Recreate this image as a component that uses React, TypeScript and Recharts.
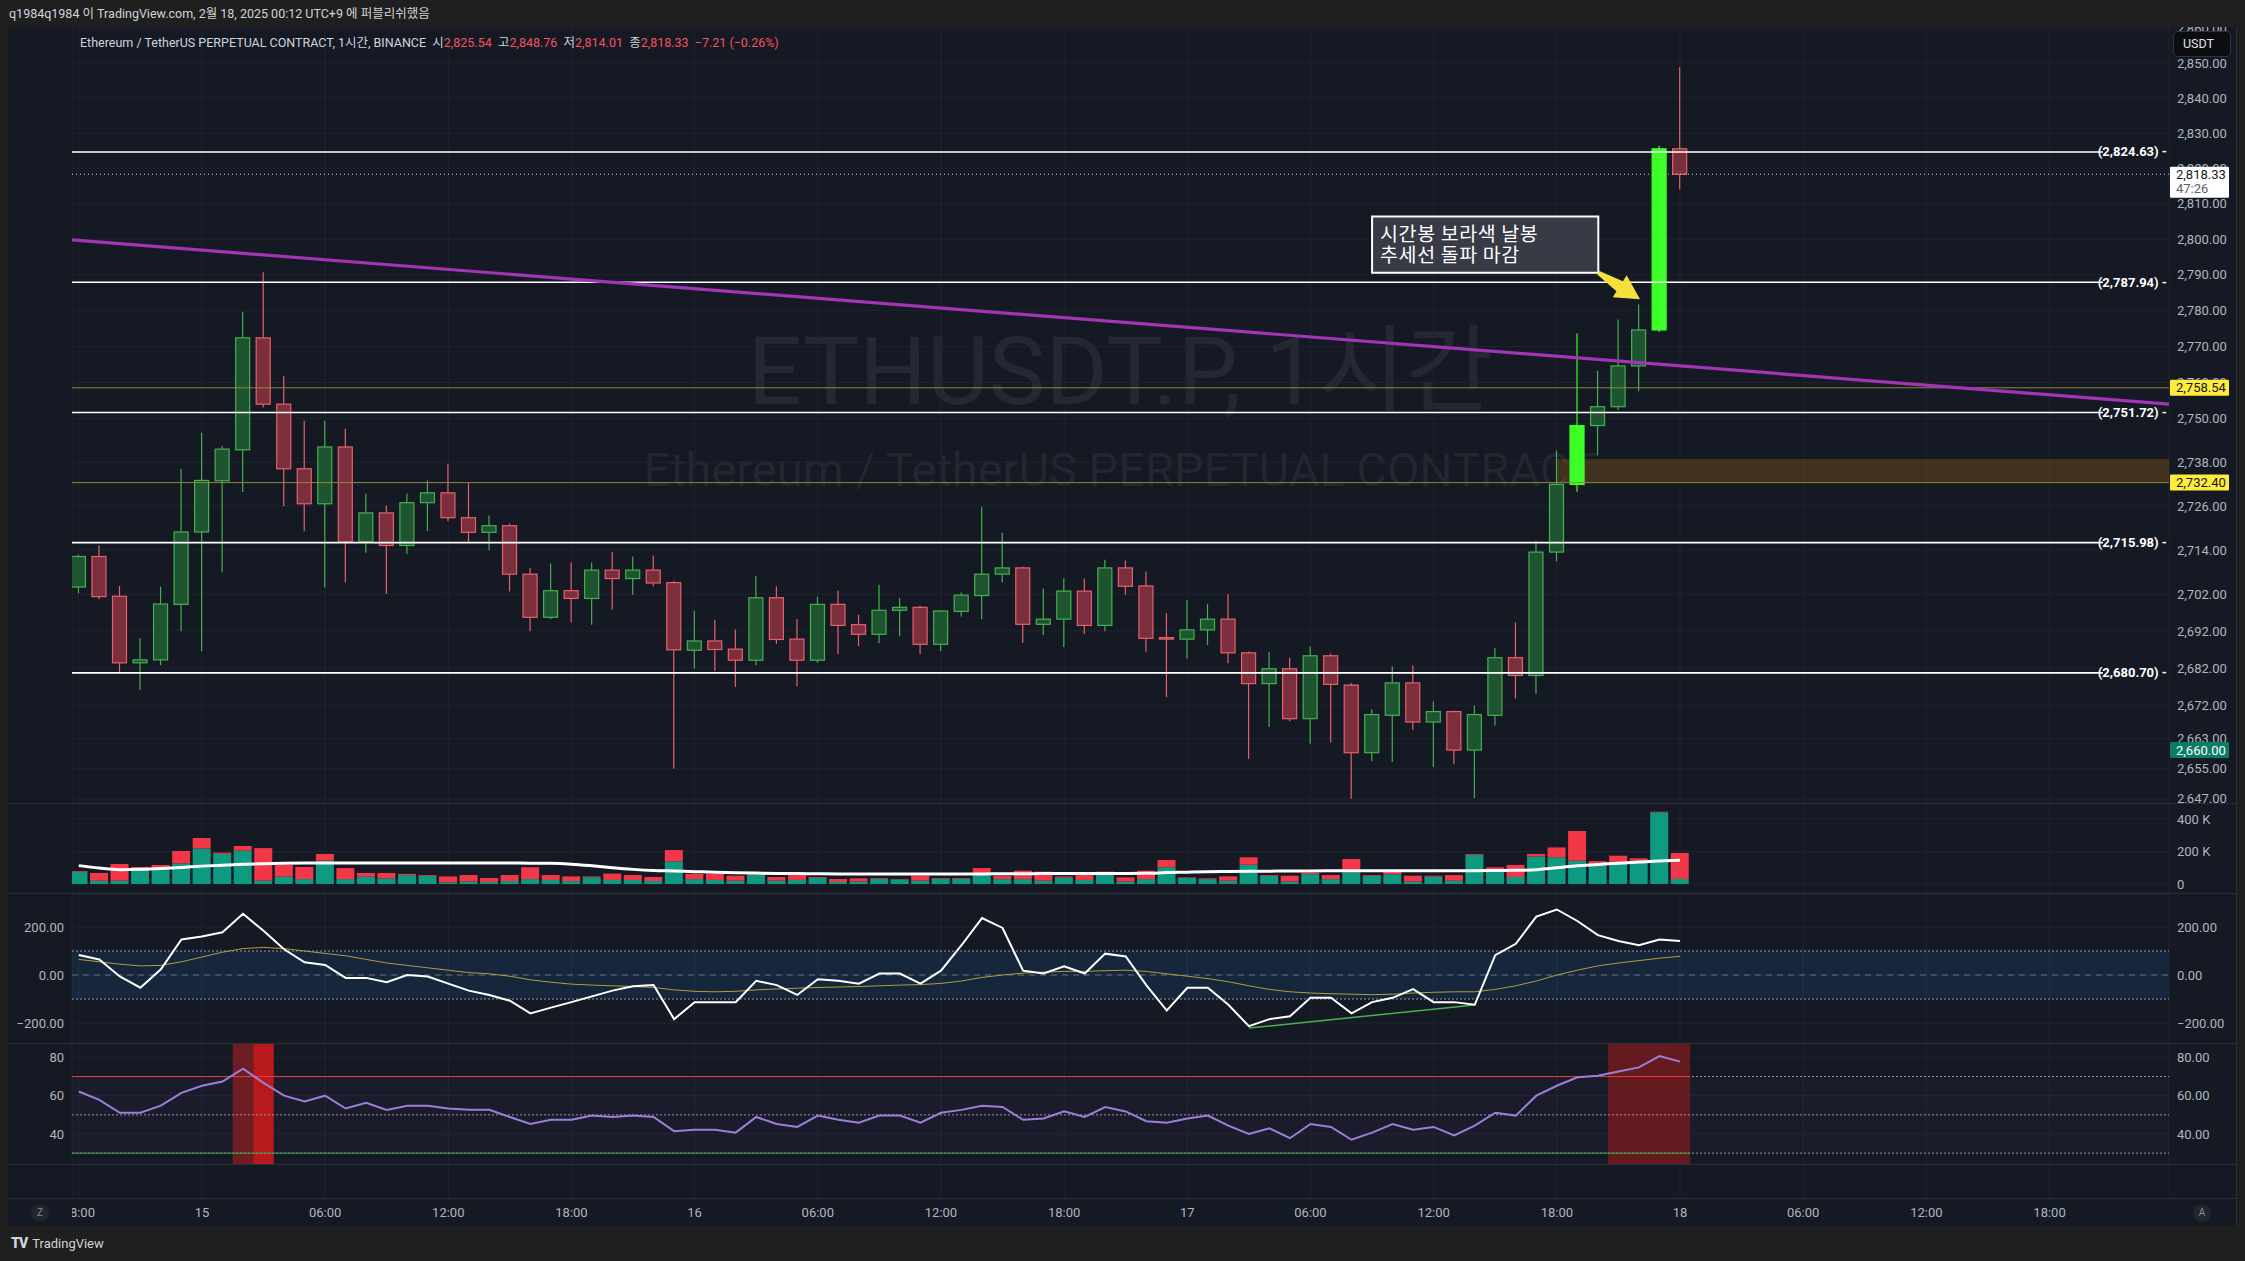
import React from 'react';
import {
  ComposedChart,
  Bar,
  Line,
  XAxis,
  YAxis,
  CartesianGrid,
  ReferenceLine,
  ReferenceArea,
} from 'recharts';

// ---------------- data ----------------
const timeTicks = [0, 6, 12, 18, 24, 30, 36, 42, 48, 54, 60, 66, 72, 78, 84, 90, 96];
const timeLabels = ['18:00', '15', '06:00', '12:00', '18:00', '16', '06:00', '12:00', '18:00', '17', '06:00', '12:00', '18:00', '18', '06:00', '12:00', '18:00'];

const opens = [
  2703.9, 2712.2, 2701.4, 2683.4, 2684.2, 2699.2, 2718.9, 2732.9, 2741.4, 2772.4,
  2754.0, 2736.2, 2726.6, 2742.2, 2716.2, 2724.1, 2715.2, 2726.9, 2729.6, 2722.8,
  2718.8, 2720.6, 2707.4, 2695.7, 2702.9, 2700.8, 2708.5, 2706.2, 2708.5, 2705.1,
  2686.8, 2689.3, 2687.1, 2684.1, 2701.0, 2689.8, 2684.1, 2699.2, 2693.7, 2691.1,
  2697.6, 2698.4, 2688.4, 2697.3, 2701.6, 2707.4, 2709.1, 2693.8, 2695.2, 2702.8,
  2693.5, 2709.1, 2704.2, 2690.2, 2689.8, 2692.3, 2695.2, 2686.1, 2677.8, 2681.8,
  2668.4, 2685.3, 2677.4, 2659.3, 2669.3, 2678.0, 2667.5, 2670.3, 2660.0, 2669.3,
  2684.8, 2680.0, 2713.4, 2731.9, 2748.1, 2753.3, 2764.6, 2774.6, 2825.54,
];
const highs = [
  2712.7, 2715.2, 2704.2, 2690.0, 2704.0, 2736.2, 2746.1, 2742.5, 2779.7, 2790.7,
  2761.9, 2749.4, 2749.4, 2747.2, 2729.4, 2726.1, 2729.4, 2733.0, 2737.6, 2732.5,
  2723.4, 2721.2, 2709.1, 2710.3, 2710.6, 2710.6, 2713.4, 2712.2, 2712.5, 2705.6,
  2697.5, 2695.0, 2692.4, 2707.0, 2704.1, 2695.2, 2701.3, 2702.9, 2696.4, 2704.5,
  2700.9, 2698.8, 2697.6, 2702.4, 2725.8, 2718.7, 2709.4, 2703.5, 2706.3, 2706.2,
  2711.3, 2711.1, 2708.1, 2696.8, 2700.4, 2699.3, 2702.0, 2686.5, 2686.4, 2684.8,
  2687.9, 2685.9, 2678.0, 2670.9, 2682.5, 2682.7, 2673.0, 2670.6, 2671.9, 2687.4,
  2694.3, 2716.5, 2741.2, 2773.6, 2763.3, 2777.5, 2781.7, 2826.4, 2848.76,
];
const lows = [
  2702.2, 2700.6, 2680.5, 2676.1, 2682.8, 2691.9, 2686.5, 2707.9, 2729.8, 2753.1,
  2725.9, 2719.1, 2703.8, 2705.1, 2713.2, 2702.0, 2712.9, 2719.1, 2721.8, 2715.9,
  2713.9, 2702.7, 2691.9, 2695.2, 2694.3, 2693.7, 2697.8, 2701.8, 2704.1, 2655.0,
  2681.9, 2681.2, 2676.9, 2682.8, 2688.5, 2677.1, 2683.4, 2685.7, 2687.9, 2688.7,
  2690.6, 2685.8, 2686.5, 2695.9, 2695.2, 2705.1, 2688.8, 2690.9, 2687.7, 2691.2,
  2691.9, 2701.8, 2686.4, 2674.2, 2684.6, 2688.2, 2683.3, 2657.6, 2666.2, 2667.7,
  2661.7, 2662.0, 2647.0, 2657.0, 2656.8, 2665.4, 2655.5, 2656.2, 2647.2, 2666.6,
  2673.8, 2675.1, 2710.9, 2729.9, 2739.9, 2752.4, 2757.6, 2774.0, 2814.01,
];
const closes = [
  2712.2, 2701.3, 2683.4, 2684.2, 2699.3, 2718.9, 2733.0, 2741.6, 2772.4, 2754.0,
  2736.2, 2726.6, 2742.2, 2716.2, 2724.1, 2715.2, 2726.9, 2729.6, 2722.8, 2718.8,
  2720.6, 2707.4, 2695.7, 2702.9, 2700.8, 2708.5, 2706.2, 2708.5, 2705.0, 2686.9,
  2689.3, 2687.0, 2684.1, 2701.0, 2689.7, 2684.1, 2699.2, 2693.5, 2691.1, 2697.6,
  2698.4, 2688.4, 2697.4, 2701.7, 2707.4, 2709.1, 2693.8, 2695.2, 2702.8, 2693.5,
  2709.1, 2704.1, 2690.0, 2690.0, 2692.3, 2695.2, 2686.1, 2677.8, 2681.8, 2668.4,
  2685.3, 2677.6, 2659.3, 2669.5, 2678.0, 2667.5, 2670.3, 2660.0, 2669.5, 2684.8,
  2680.0, 2713.4, 2731.9, 2748.1, 2753.3, 2764.6, 2774.6, 2825.54, 2818.33,
];
const neonBars = [73, 77];

const volBuy = [
  75, 20, 20, 88, 92, 127, 219, 185, 205, 20,
  45, 30, 144, 30, 45, 35, 55, 50, 10, 15,
  12, 18, 30, 25, 18, 42, 25, 25, 18, 139,
  30, 25, 20, 58, 20, 25, 38, 12, 15, 33,
  28, 20, 33, 33, 62, 30, 30, 20, 40, 25,
  65, 15, 30, 103, 38, 30, 20, 119, 50, 15,
  60, 30, 72, 50, 60, 15, 45, 20, 180, 78,
  43, 170, 164, 143, 123, 133, 144, 441, 31,
];
const volSell = [
  5, 48, 103, 17, 25, 76, 64, 8, 29, 201,
  72, 75, 41, 68, 23, 33, 7, 5, 37, 40,
  25, 37, 73, 30, 29, 5, 39, 30, 25, 70,
  32, 37, 31, 4, 23, 30, 5, 19, 20, 4,
  3, 31, 4, 4, 36, 21, 52, 56, 7, 43,
  11, 26, 52, 45, 3, 5, 27, 45, 5, 36,
  8, 25, 82, 5, 16, 36, 6, 35, 5, 25,
  74, 15, 61, 183, 18, 41, 14, 4, 160,
];
const volMA = [
  113, 98, 88, 90, 95, 102, 110, 116, 121, 125,
  128, 129, 129, 129, 129, 129, 129, 129, 129, 129,
  129, 129, 128, 127, 122, 112, 100, 90, 83, 80,
  76, 72, 69, 67, 65, 64, 63, 62, 62, 62,
  62, 62, 62, 62, 62, 63, 63, 64, 64, 65,
  65, 65, 66, 70, 73, 76, 77, 78, 79, 80,
  80, 81, 82, 82, 82, 82, 82, 82, 82, 83,
  84, 88, 100, 113, 120, 128, 135, 142, 146,
];

const cci = [
  83, 65, -6, -53, 24, 148, 160, 178, 255, 184,
  107, 53, 42, -12, -12, -30, 0, -6, -36, -65,
  -83, -107, -160, -136, -113, -89, -65, -47, -42, -184,
  -113, -113, -113, -24, -42, -83, -18, -24, -36, 6,
  6, -36, 18, 124, 237, 196, 18, 6, 36, 6,
  89, 77, -42, -148, -53, -53, -124, -213, -184, -172,
  -95, -95, -160, -113, -95, -59, -113, -113, -124, 83,
  130, 243, 273, 225, 166, 142, 124, 148, 142,
];
const cciMA = [
  65, 55, 45, 38, 40, 55, 75, 95, 110, 115,
  110, 100, 90, 80, 65, 50, 40, 30, 20, 10,
  5, -5, -20, -30, -38, -42, -45, -48, -52, -62,
  -68, -70, -68, -62, -58, -55, -52, -50, -48, -45,
  -42, -40, -35, -25, -10, 0, 8, 12, 15, 15,
  18, 20, 15, 5, -5, -15, -28, -45, -60, -70,
  -75, -78, -80, -82, -80, -75, -72, -70, -70, -60,
  -45, -25, 0, 20, 38, 50, 60, 70, 78,
];
const rsi = [
  62.2, 57.8, 51.1, 51.1, 54.8, 61.5, 65.2, 67.4, 74.1, 66.7,
  60, 57, 60, 53.3, 56.3, 52.6, 54.8, 54.8, 53.3, 52.6,
  52.6, 48.9, 45.2, 47.4, 47.4, 49.6, 48.9, 49.6, 48.9, 41.5,
  42.2, 42.2, 40.7, 48.9, 45.2, 43.7, 49.6, 47.4, 45.9, 49.6,
  49.6, 45.9, 51.1, 52.6, 54.8, 54.1, 47.4, 48.1, 51.8, 48.9,
  54.1, 51.8, 46.7, 45.9, 48.1, 49.6, 44.4, 40, 43, 37.8,
  45.2, 43.7, 37, 40.7, 45.2, 42.2, 43.7, 39.3, 44.4, 51.1,
  49.6, 60, 65.2, 69.6, 70.4, 72.6, 74.8, 80.7, 77.8,
];

const priceTicks = [2647, 2655, 2663, 2672, 2682, 2692, 2702, 2714, 2726, 2738, 2750, 2760, 2770, 2780, 2790, 2800, 2810, 2820, 2830, 2840, 2850, 2860];
const volTicks = [0, 200, 400];
const cciTicks = [-200, 0, 200];
const rsiTicks = [40, 60, 80];

const whiteLevels = [2824.63, 2787.94, 2751.72, 2715.98, 2680.70];
const oliveLevels = [2758.54, 2732.40];
const lastPrice = 2818.33;
const countdown = '47:26';
const alertPrice = 2660.0;
const zone = { x1: 72, y1: 2732.4, y2: 2738.9 };
const trendData = [
  { i: -0.33, t: 2799.8 },
  { i: 101.82, t: 2754.0 },
];
const divergenceData = [
  { i: 57, d: -221 },
  { i: 68, d: -125 },
];
const note = ['시간봉 보라색 날봉', '추세선 돌파 마감'];
const noteBox = { x1: 63.0, x2: 74.02, y1: 2790.6, y2: 2806.4 };
const arrowFrom = { x: 74.02, y: 2790.6 };
const arrowTo = { x: 76.05, y: 2783.2 };
const rsiZones = [
  { x1: 7.5, x2: 8.5, color: '#6e1d22' },
  { x1: 8.5, x2: 9.5, color: '#b7191c' },
  { x1: 74.5, x2: 78.5, color: '#641b1f' },
];

// ---------------- constants ----------------
const FONT = "Roboto, 'Noto Sans CJK KR', 'Noto Sans', sans-serif";
const BG = '#151924';
const GRID = '#20242f';
const AX = '#b2b5be';
const SEP = '#2a2e39';
const X_DOMAIN: [number, number] = [-0.33, 101.82];
const PRICE_DOMAIN: [number, number] = [2645.9, 2860.3];
const VOL_DOMAIN: [number, number] = [-55.4, 492.3];
const CCI_DOMAIN: [number, number] = [-283.3, 337.5];
const RSI_DOMAIN: [number, number] = [24.33, 87.0];
const ZERO = { top: 0, right: 0, bottom: 0, left: 0 };
const tickStyle = { fill: AX, fontSize: 13, fontFamily: FONT };

const candleData = opens.map((o, i) => ({
  i,
  o,
  h: highs[i],
  l: lows[i],
  c: closes[i],
  range: [lows[i], highs[i]],
  neon: neonBars.includes(i),
}));
const volData = volBuy.map((b, i) => ({ i, buy: b, sell: volSell[i], ma: volMA[i] }));
const indData = cci.map((v, i) => ({ i, cci: v, cciMA: cciMA[i], rsi: rsi[i] }));

const fmt2 = (v: number) =>
  v.toLocaleString('en-US', { minimumFractionDigits: 2, maximumFractionDigits: 2 }).replace('-', '\u2212');
const fmtVol = (v: number) => (v === 0 ? '0' : `${v} K`);
const timeFmt = (v: number) => {
  const k = timeTicks.indexOf(v);
  return k >= 0 ? timeLabels[k] : '';
};

// ---------------- shapes ----------------
function CandleShape(props: any) {
  const { x, y, width, height, payload } = props;
  if (x == null || y == null || !payload) return null;
  const { o, h, l, c, neon } = payload;
  const top = Math.min(y, y + height);
  const bottom = Math.max(y, y + height);
  const lh = Math.log(h);
  const ll = Math.log(l);
  const span = lh - ll || 1;
  const py = (v: number) => top + ((bottom - top) * (lh - Math.log(v))) / span;
  const cx = x + width / 2;
  const up = c >= o;
  const stroke = neon ? '#3bff27' : up ? '#43b14c' : '#e6606c';
  const fill = neon ? '#3bff27' : up ? '#1e5530' : '#7b2f3c';
  const bTop = py(Math.max(o, c));
  const bBot = py(Math.min(o, c));
  const bw = 14;
  return (
    <g>
      <line x1={cx} x2={cx} y1={top} y2={bottom} stroke={stroke} strokeWidth={1.2} />
      <rect x={cx - bw / 2} y={bTop} width={bw} height={Math.max(bBot - bTop, 1.5)} fill={fill} stroke={stroke} strokeWidth={1.2} />
    </g>
  );
}

function ArrowShape(props: any) {
  const { x1, y1, x2, y2 } = props;
  if ([x1, y1, x2, y2].some((v) => v == null || Number.isNaN(v))) return null;
  const dx = x2 - x1;
  const dy = y2 - y1;
  const len = Math.hypot(dx, dy) || 1;
  const ux = dx / len;
  const uy = dy / len;
  const nx = -uy;
  const ny = ux;
  const headL = 24;
  const headW = 13;
  const bx = x2 - ux * headL;
  const by = y2 - uy * headL;
  const pts = [
    [x1 + nx * 2, y1 + ny * 2],
    [bx + nx * 6, by + ny * 6],
    [bx + nx * headW, by + ny * headW],
    [x2, y2],
    [bx - nx * headW, by - ny * headW],
    [bx - nx * 6, by - ny * 6],
    [x1 - nx * 2, y1 - ny * 2],
  ];
  return <polygon points={pts.map((p) => p.join(',')).join(' ')} fill="#f5e13a" />;
}

const levelLabel = (text: string) => (props: any) => {
  const vb = props.viewBox;
  if (!vb) return null;
  const xr = vb.x + vb.width;
  return (
    <g>
      <rect x={xr - 66} y={vb.y - 9} width={66} height={18} fill={BG} />
      <text x={xr - 2} y={vb.y} dy={4.5} textAnchor="end" fill="#ffffff" fontSize={13} fontWeight={700} fontFamily={FONT}>
        {text}
      </text>
    </g>
  );
};

const axisTag = (text: string, bg: string, fg: string) => (props: any) => {
  const vb = props.viewBox;
  if (!vb) return null;
  const x0 = vb.x + vb.width + 1;
  return (
    <g>
      <rect x={x0} y={vb.y - 8} width={59} height={16} fill={bg} rx={1} />
      <text x={x0 + 6} y={vb.y} dy={4.5} fill={fg} fontSize={13} fontFamily={FONT}>
        {text}
      </text>
    </g>
  );
};

const lastTag = (props: any) => {
  const vb = props.viewBox;
  if (!vb) return null;
  const x0 = vb.x + vb.width + 1;
  return (
    <g>
      <rect x={x0} y={vb.y - 7.5} width={59} height={31} fill="#ffffff" rx={1} />
      <text x={x0 + 6} y={vb.y} dy={4.5} fill="#131722" fontSize={13} fontFamily={FONT}>
        {fmt2(lastPrice)}
      </text>
      <text x={x0 + 6} y={vb.y + 14.5} dy={4.5} fill="#5d606b" fontSize={13} fontFamily={FONT}>
        {countdown}
      </text>
    </g>
  );
};

const noteLabel = (props: any) => {
  const vb = props.viewBox;
  if (!vb) return null;
  return (
    <text fill="#ffffff" fontSize={19.5} letterSpacing={0.6} fontFamily="'Noto Sans CJK KR', sans-serif">
      <tspan x={vb.x + 8} y={vb.y + 24.5}>{note[0]}</tspan>
      <tspan x={vb.x + 8} y={vb.y + 46}>{note[1]}</tspan>
    </text>
  );
};

// ---------------- app ----------------
export default function App() {
  const hSep = (y: number) => (
    <div key={y} style={{ position: 'absolute', left: 8, top: y, width: 2228, height: 1, background: SEP }} />
  );
  return (
    <div
      style={{
        position: 'absolute',
        left: 0,
        top: 0,
        width: 2245,
        height: 1261,
        background: '#1f1f1f',
        overflow: 'hidden',
        fontFamily: FONT,
      }}
    >
      {/* publisher header */}
      <div style={{ position: 'absolute', left: 9, top: 5, fontSize: 12.5, lineHeight: '18px', color: '#d1d4dc', whiteSpace: 'nowrap' }}>
        q1984q1984 이 TradingView.com, 2월 18, 2025 00:12 UTC+9 에 퍼블리쉬했음
      </div>

      {/* chart frame */}
      <div style={{ position: 'absolute', left: 8, top: 27, width: 2228, height: 1199, background: BG }} />

      {/* watermark */}
      <div style={{ position: 'absolute', left: 72, top: 316, width: 2097, textAlign: 'center', fontSize: 95, lineHeight: '112px', color: 'rgba(255,255,255,0.065)', whiteSpace: 'nowrap' }}>
        ETHUSDT.P, 1시간
      </div>
      <div style={{ position: 'absolute', left: 72, top: 441, width: 2097, textAlign: 'center', fontSize: 47, lineHeight: '57px', color: 'rgba(255,255,255,0.065)', whiteSpace: 'nowrap' }}>
        Ethereum / TetherUS PERPETUAL CONTRACT
      </div>

      {/* main price pane */}
      <ComposedChart width={2164} height={776} data={candleData} margin={ZERO} style={{ position: 'absolute', left: 72, top: 27 }}>
        <CartesianGrid stroke={GRID} />
        <XAxis dataKey="i" type="number" domain={X_DOMAIN} ticks={timeTicks} hide allowDataOverflow />
        <YAxis
          orientation="right"
          scale="log"
          domain={PRICE_DOMAIN}
          allowDataOverflow
          ticks={priceTicks}
          interval={0}
          tickFormatter={fmt2}
          width={67}
          axisLine={false}
          tickLine={false}
          tick={tickStyle}
        />
        <ReferenceArea x1={zone.x1} x2={X_DOMAIN[1]} y1={zone.y1} y2={zone.y2} fill="#ff9f00" fillOpacity={0.18} stroke="none" />
        <Bar dataKey="range" barSize={14} shape={CandleShape} isAnimationActive={false} />
        {oliveLevels.map((p) => (
          <ReferenceLine key={p} y={p} stroke="#8d8a3c" strokeWidth={1} />
        ))}
        <ReferenceLine y={lastPrice} stroke="#c9ccd4" strokeWidth={1} strokeDasharray="1 3" />
        {whiteLevels.map((p) => (
          <ReferenceLine key={p} y={p} stroke="#ffffff" strokeWidth={1.6} label={levelLabel(`(${fmt2(p)}) -`)} />
        ))}
        <Line data={trendData} dataKey="t" stroke="#a234b6" strokeWidth={3.2} dot={false} isAnimationActive={false} />
        <ReferenceArea
          x1={noteBox.x1}
          x2={noteBox.x2}
          y1={noteBox.y1}
          y2={noteBox.y2}
          fill="#3b3e49"
          fillOpacity={0.93}
          stroke="#ffffff"
          strokeWidth={2}
          label={noteLabel}
        />
        <ReferenceLine segment={[arrowFrom, arrowTo]} shape={ArrowShape} />
      </ComposedChart>

      {/* tags on the price scale */}
      <ComposedChart width={2164} height={776} data={candleData} margin={{ top: 0, right: 67, bottom: 0, left: 0 }} style={{ position: 'absolute', left: 72, top: 27 }}>
        <XAxis dataKey="i" type="number" domain={X_DOMAIN} hide allowDataOverflow />
        <YAxis scale="log" domain={PRICE_DOMAIN} allowDataOverflow hide />
        <ReferenceLine y={oliveLevels[0]} stroke="none" label={axisTag(fmt2(oliveLevels[0]), '#ffeb3b', '#131722')} />
        <ReferenceLine y={oliveLevels[1]} stroke="none" label={axisTag(fmt2(oliveLevels[1]), '#ffeb3b', '#131722')} />
        <ReferenceLine y={alertPrice} stroke="none" label={axisTag(fmt2(alertPrice), '#0b7d67', '#ffffff')} />
        <ReferenceLine y={lastPrice} stroke="none" label={lastTag} />
      </ComposedChart>

      {/* volume pane */}
      <ComposedChart width={2164} height={89} data={volData} margin={ZERO} style={{ position: 'absolute', left: 72, top: 804 }}>
        <CartesianGrid stroke={GRID} />
        <XAxis dataKey="i" type="number" domain={X_DOMAIN} ticks={timeTicks} hide allowDataOverflow />
        <YAxis
          orientation="right"
          domain={VOL_DOMAIN}
          allowDataOverflow
          ticks={volTicks}
          interval={0}
          tickFormatter={fmtVol}
          width={67}
          axisLine={false}
          tickLine={false}
          tick={tickStyle}
        />
        <Bar dataKey="buy" stackId="v" fill="#0d9a80" barSize={18} isAnimationActive={false} />
        <Bar dataKey="sell" stackId="v" fill="#f23848" barSize={18} isAnimationActive={false} />
        <Line dataKey="ma" stroke="#ffffff" strokeWidth={3} dot={false} isAnimationActive={false} type="monotone" />
      </ComposedChart>

      {/* CCI pane */}
      <ComposedChart width={2226} height={149} data={indData} margin={ZERO} style={{ position: 'absolute', left: 10, top: 894 }}>
        <XAxis dataKey="i" type="number" domain={X_DOMAIN} ticks={timeTicks} hide allowDataOverflow />
        <YAxis orientation="left" width={62} domain={CCI_DOMAIN} allowDataOverflow ticks={cciTicks} interval={0} tickFormatter={fmt2} axisLine={false} tickLine={false} tick={tickStyle} />
        <YAxis yAxisId="r" orientation="right" width={67} domain={CCI_DOMAIN} allowDataOverflow ticks={cciTicks} interval={0} tickFormatter={fmt2} axisLine={false} tickLine={false} tick={tickStyle} />
        <CartesianGrid stroke={GRID} />
        <ReferenceArea y1={-100} y2={100} fill="#2196f3" fillOpacity={0.12} stroke="none" />
        <ReferenceLine y={100} stroke="#9598a1" strokeDasharray="2 2" />
        <ReferenceLine y={-100} stroke="#9598a1" strokeDasharray="2 2" />
        <ReferenceLine y={0} stroke="#6a6d78" strokeDasharray="6 5" />
        <Line data={divergenceData} dataKey="d" stroke="#4caf50" strokeWidth={1.5} dot={false} isAnimationActive={false} />
        <Line dataKey="cciMA" stroke="#b09f3a" strokeWidth={1} dot={false} isAnimationActive={false} />
        <Line dataKey="cci" stroke="#ffffff" strokeWidth={2} dot={false} isAnimationActive={false} />
      </ComposedChart>

      {/* RSI pane */}
      <ComposedChart width={2226} height={120} data={indData} margin={ZERO} style={{ position: 'absolute', left: 10, top: 1044 }}>
        <XAxis dataKey="i" type="number" domain={X_DOMAIN} ticks={timeTicks} hide allowDataOverflow />
        <YAxis orientation="left" width={62} domain={RSI_DOMAIN} allowDataOverflow ticks={rsiTicks} interval={0} axisLine={false} tickLine={false} tick={tickStyle} />
        <YAxis yAxisId="r" orientation="right" width={67} domain={RSI_DOMAIN} allowDataOverflow ticks={rsiTicks} interval={0} tickFormatter={fmt2} axisLine={false} tickLine={false} tick={tickStyle} />
        <CartesianGrid stroke={GRID} />
        <ReferenceArea y1={30} y2={70} fill="#7e57c2" fillOpacity={0.06} stroke="none" />
        {rsiZones.map((z) => (
          <ReferenceArea key={z.x1} x1={z.x1} x2={z.x2} fill={z.color} fillOpacity={1} stroke="none" />
        ))}
        <ReferenceLine y={70} stroke="#9598a1" strokeDasharray="2 2" />
        <ReferenceLine y={50} stroke="#9598a1" strokeDasharray="2 2" />
        <ReferenceLine y={30} stroke="#9598a1" strokeDasharray="2 2" />
        <ReferenceLine segment={[{ x: X_DOMAIN[0], y: 70 }, { x: 78.5, y: 70 }]} stroke="#e53935" strokeWidth={1} />
        <ReferenceLine segment={[{ x: X_DOMAIN[0], y: 30 }, { x: 78.5, y: 30 }]} stroke="#43a047" strokeWidth={1} />
        <Line dataKey="rsi" stroke="#9c7fd8" strokeWidth={2} dot={false} isAnimationActive={false} />
      </ComposedChart>

      {/* empty pane + time axis */}
      <ComposedChart width={2097} height={61} data={indData} margin={ZERO} style={{ position: 'absolute', left: 72, top: 1165 }}>
        <CartesianGrid stroke={GRID} horizontal={false} />
        <XAxis
          dataKey="i"
          type="number"
          domain={X_DOMAIN}
          allowDataOverflow
          ticks={timeTicks}
          interval={0}
          tickFormatter={timeFmt}
          axisLine={false}
          tickLine={false}
          height={28}
          tickMargin={4}
          tick={tickStyle}
        />
        <YAxis hide domain={[0, 1]} />
      </ComposedChart>

      {/* separators */}
      {[803, 893, 1043, 1164, 1198].map(hSep)}
      <div style={{ position: 'absolute', left: 2236, top: 27, width: 1, height: 1199, background: SEP }} />

      {/* legend */}
      <div style={{ position: 'absolute', left: 80, top: 34, fontSize: 12.5, lineHeight: '17px', color: '#d1d4dc', whiteSpace: 'nowrap' }}>
        Ethereum / TetherUS PERPETUAL CONTRACT, 1시간, BINANCE&nbsp;&nbsp;시<span style={{ color: '#f7525f' }}>2,825.54</span>&nbsp;&nbsp;고
        <span style={{ color: '#f7525f' }}>2,848.76</span>&nbsp;&nbsp;저<span style={{ color: '#f7525f' }}>2,814.01</span>&nbsp;&nbsp;종
        <span style={{ color: '#f7525f' }}>2,818.33</span>&nbsp;&nbsp;<span style={{ color: '#f7525f' }}>−7.21 (−0.26%)</span>
      </div>

      {/* USDT button */}
      <div style={{ position: 'absolute', left: 2173, top: 31, width: 58, height: 26, background: '#0c0d10', border: '1px solid #2f323c', borderRadius: 4, boxSizing: 'border-box', color: '#e0e3eb', fontSize: 12.5, lineHeight: '24px', paddingLeft: 9 }}>
        USDT
      </div>

      {/* scale buttons */}
      <div style={{ position: 'absolute', left: 31, top: 1204, width: 18, height: 18, borderRadius: 9, background: '#22262f', color: '#8a8d96', fontSize: 10, lineHeight: '18px', textAlign: 'center' }}>Z</div>
      <div style={{ position: 'absolute', left: 2193, top: 1204, width: 18, height: 18, borderRadius: 9, background: '#22262f', color: '#8a8d96', fontSize: 10, lineHeight: '18px', textAlign: 'center' }}>A</div>

      {/* footer logo */}
      <div style={{ position: 'absolute', left: 11, top: 1234, color: '#d1d4dc', whiteSpace: 'nowrap', fontSize: 13, lineHeight: '18px' }}>
        <span style={{ fontWeight: 900, fontSize: 14, letterSpacing: -1, marginRight: 5 }}>TV</span>TradingView
      </div>
    </div>
  );
}
